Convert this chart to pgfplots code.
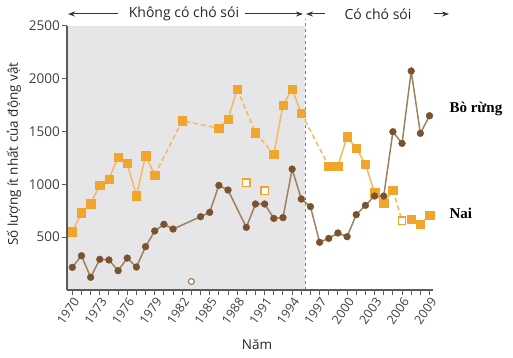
\documentclass[border=0pt]{standalone}
\usepackage{pgfplots}
\pgfplotsset{compat=1.18}
\usepackage{fontspec}
\setmainfont{Open Sans}
\newfontfamily\serifb{Liberation Serif}
\usetikzlibrary{arrows.meta}
\definecolor{elkC}{HTML}{F2A52C}
\definecolor{elkL}{HTML}{F3B960}
\definecolor{bisC}{HTML}{7A5230}
\definecolor{bisL}{HTML}{A0815F}
\definecolor{bgG}{HTML}{E6E6E8}
\definecolor{axC}{HTML}{5A5A5A}
\begin{document}
\begin{tikzpicture}[x=1pt,y=1pt]
\useasboundingbox (0,0) rectangle (513,357);
\begin{axis}[
  at={(67pt,67pt)}, anchor=south west,
  scale only axis, width=366pt, height=264.5pt,
  xmin=1969.42, xmax=2009.38, ymin=0, ymax=2500,
  axis x line*=bottom, axis y line*=left,
  axis line style={axC, line width=1.6pt},
  axis on top, clip=false,
  xtick={1970,1973,...,2009},
  minor xtick={1970,...,2009},
  ytick={500,1000,...,2500},
  tick align=outside,
  major tick length=5pt, minor tick length=5pt,
  every tick/.style={axC, line width=1pt},
  /pgf/number format/assume math mode=true,
  /pgf/number format/1000 sep={},
  tick label style={text=black!75},
  xticklabel style={font=\fontsize{12.5}{14}\selectfont, rotate=55, anchor=north east, inner sep=1pt},
  yticklabel style={font=\fontsize{13.5}{15}\selectfont, inner sep=2pt},
]
\fill[bgG] (axis cs:1969.42,0) rectangle (axis cs:1995.4,2500);
\draw[gray, dashed, line width=0.9pt] (axis cs:1995.4,0) -- (axis cs:1995.4,2560);

% Elk (Nai) lines
\addplot[elkL, line width=1.5pt, no marks] coordinates {(1970,551)(1971,731)(1972,816)(1973,992)(1974,1049)(1975,1257)(1976,1197)(1977,891)(1978,1270)(1979,1087)};
\addplot[elkL, line width=1.5pt, no marks, dash pattern=on 5pt off 3pt] coordinates {(1979,1087)(1982,1600)(1986,1528)};
\addplot[elkL, line width=1.5pt, no marks] coordinates {(1986,1528)(1987,1613)(1988,1900)};
\addplot[elkL, line width=1.5pt, no marks, dash pattern=on 5pt off 3pt] coordinates {(1988,1900)(1990,1487)(1992,1283)};
\addplot[elkL, line width=1.5pt, no marks] coordinates {(1992,1283)(1993,1749)(1994,1900)(1995,1670)};
\addplot[elkL, line width=1.5pt, no marks, dash pattern=on 5pt off 3pt] coordinates {(1995,1670)(1998,1172)};
\addplot[elkL, line width=1.5pt, no marks] coordinates {(1998,1172)(1999,1172)(2000,1449)(2001,1339)(2002,1191)(2003,920)(2004,819)(2005,945)};
\addplot[elkL, line width=1.5pt, no marks, dash pattern=on 5pt off 3pt] coordinates {(2005,945)(2006,655)};
\addplot[elkL, line width=1.5pt, no marks] coordinates {(2007,671)(2008,624)(2009,709)};

% Bison (Bo rung) line
\addplot[bisL, line width=1.5pt, no marks] coordinates {(1970,214)(1971,324)(1972,120)(1973,290)(1974,284)(1975,183)(1976,302)(1977,217)(1978,410)(1979,558)(1980,621)(1981,576)(1984,693)(1985,734)(1986,989)(1987,945)(1989,592)(1990,813)(1991,813)(1992,677)(1993,684)(1994,1143)(1995,860)(1996,788)(1997,451)(1998,488)(1999,539)(2000,504)(2001,712)(2002,800)(2003,888)(2004,888)(2005,1496)(2006,1386)(2007,2070)(2008,1481)(2009,1647)};

% markers
\addplot[only marks, mark=square*, mark size=4.2pt, mark options={fill=elkC, draw=elkC}] coordinates {(1970,551)(1971,731)(1972,816)(1973,992)(1974,1049)(1975,1257)(1976,1197)(1977,891)(1978,1270)(1979,1087)(1982,1600)(1986,1528)(1987,1613)(1988,1900)(1990,1487)(1992,1283)(1993,1749)(1994,1900)(1995,1670)(1998,1172)(1999,1172)(2000,1449)(2001,1339)(2002,1191)(2003,920)(2004,819)(2005,945)(2007,671)(2008,624)(2009,709)};
\addplot[only marks, mark=square*, mark size=3.6pt, mark options={fill=white, draw=elkC, line width=1.3pt}] coordinates {(1989,1014)(1991,939)(2006,655)};
\addplot[only marks, mark=*, mark size=3.4pt, mark options={fill=bisC, draw=bisC}] coordinates {(1970,214)(1971,324)(1972,120)(1973,290)(1974,284)(1975,183)(1976,302)(1977,217)(1978,410)(1979,558)(1980,621)(1981,576)(1984,693)(1985,734)(1986,989)(1987,945)(1989,592)(1990,813)(1991,813)(1992,677)(1993,684)(1994,1143)(1995,860)(1996,788)(1997,451)(1998,488)(1999,539)(2000,504)(2001,712)(2002,800)(2003,888)(2004,888)(2005,1496)(2006,1386)(2007,2070)(2008,1481)(2009,1647)};
\addplot[only marks, mark=*, mark size=3pt, mark options={fill=white, draw=bisL, line width=1.2pt}] coordinates {(1983,80)};
\end{axis}

% labels
\node[rotate=90, font=\fontsize{13.5}{15}\selectfont, text=black!85] at (14,203) {Số lượng ít nhất của động vật};
\node[font=\fontsize{13.5}{15}\selectfont, text=black!85] at (257,12) {Năm};

% top annotations
\draw[-{Stealth[length=7pt,width=5pt]}, line width=1pt, black!80] (118,343) -- (68,343);
\node[font=\fontsize{14}{16}\selectfont, text=black!85] at (184,343) {Không có chó sói};
\draw[-{Stealth[length=7pt,width=5pt]}, line width=1pt, black!80] (245,343) -- (303,343);
\draw[-{Stealth[length=7pt,width=5pt]}, line width=1pt, black!80] (325,343) -- (306,343);
\node[font=\fontsize{14}{16}\selectfont, text=black!85] at (378,343) {Có chó sói};
\draw[-{Stealth[length=7pt,width=5pt]}, line width=1pt, black!80] (434,343) -- (449,343);

% series names
\node[anchor=west, font=\serifb\bfseries\fontsize{15}{17}\selectfont] at (446,248) {Bò rừng};
\node[anchor=west, font=\serifb\bfseries\fontsize{15}{17}\selectfont] at (446,144) {Nai};
\end{tikzpicture}
\end{document}
